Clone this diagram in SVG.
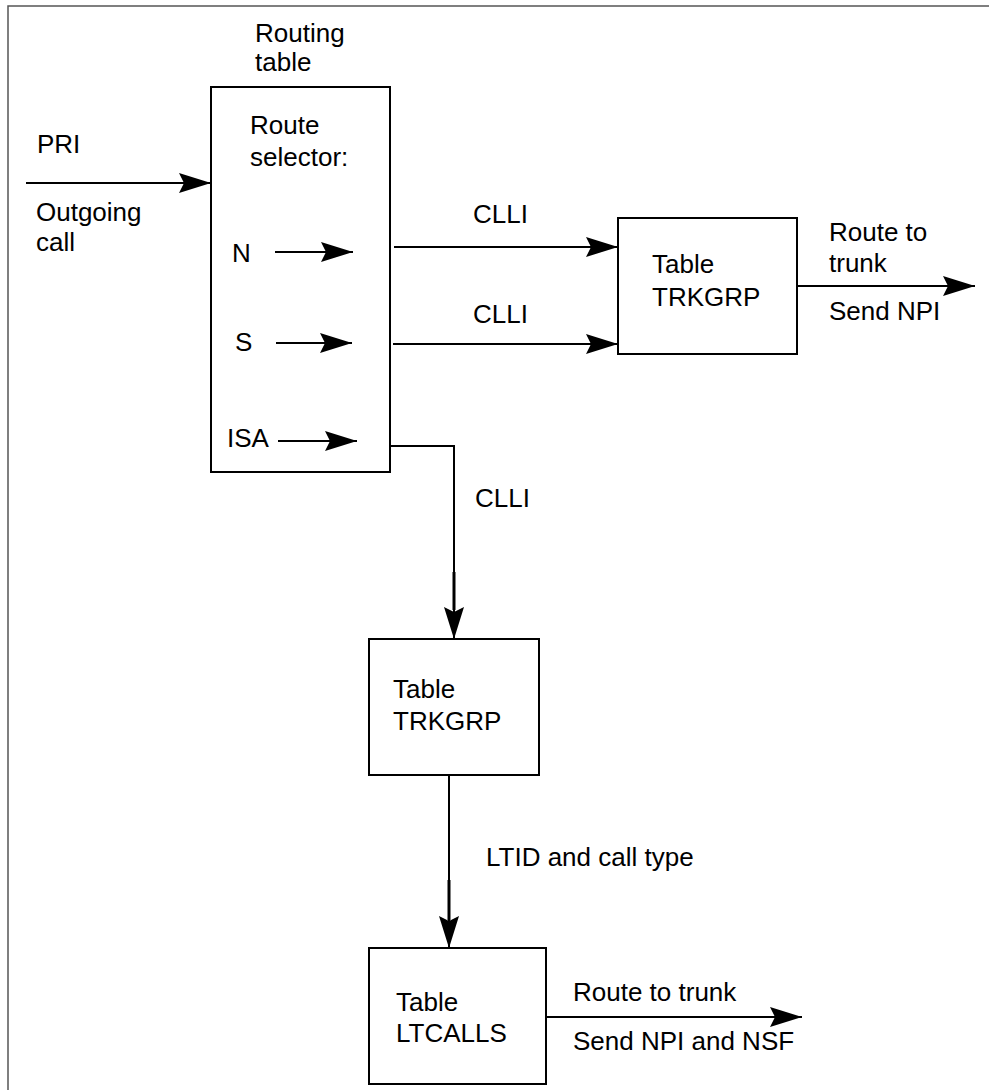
<svg xmlns="http://www.w3.org/2000/svg" width="989" height="1090" viewBox="0 0 989 1090">
<style>
text{font-family:"Liberation Sans",Arial,sans-serif;font-size:26px;fill:#000}
.box{fill:#fff;stroke:#000;stroke-width:2}
.ln{fill:none;stroke:#000;stroke-width:2}
</style>
<defs>
<marker id="ah" markerUnits="userSpaceOnUse" viewBox="-34 -12 35 24" markerWidth="35" markerHeight="24" refX="0" refY="0" orient="auto">
<path d="M0,0 L-32,-10 L-27,0 L-32,10 Z" fill="#000"/>
</marker>
</defs>
<rect width="989" height="1090" fill="#fff"/>
<path d="M8,1090 V6 H989" fill="none" stroke="#555" stroke-width="1.5"/>

<g id="routing-table">
<text x="255" y="42">Routing</text>
<text x="255" y="71">table</text>
<rect class="box" x="211" y="87" width="179" height="385"/>
<text x="250" y="134">Route</text>
<text x="250" y="166">selector:</text>
<text x="232" y="262">N</text>
<text x="235" y="351">S</text>
<text x="227" y="447">ISA</text>
<line class="ln" x1="275" y1="252" x2="353" y2="252" marker-end="url(#ah)"/>
<line class="ln" x1="276" y1="343" x2="352" y2="343" marker-end="url(#ah)"/>
<line class="ln" x1="278" y1="441" x2="357" y2="441" marker-end="url(#ah)"/>
</g>

<g id="trkgrp-1">
<rect class="box" x="618" y="218" width="179" height="136"/>
<text x="652" y="273">Table</text>
<text x="652" y="306">TRKGRP</text>
</g>

<g id="trkgrp-2">
<rect class="box" x="369" y="639" width="170" height="136"/>
<text x="393" y="698">Table</text>
<text x="393" y="730">TRKGRP</text>
</g>

<g id="ltcalls">
<rect class="box" x="369" y="948" width="177" height="136"/>
<text x="396" y="1011">Table</text>
<text x="396" y="1042">LTCALLS</text>
</g>

<g id="connectors">
<line class="ln" x1="26" y1="183" x2="211" y2="183" marker-end="url(#ah)"/>
<text x="37" y="153">PRI</text>
<text x="36" y="221">Outgoing</text>
<text x="36" y="251">call</text>

<line class="ln" x1="394" y1="247" x2="618" y2="247" marker-end="url(#ah)"/>
<text x="473" y="223">CLLI</text>
<line class="ln" x1="393" y1="344" x2="618" y2="344" marker-end="url(#ah)"/>
<text x="473" y="323">CLLI</text>

<line class="ln" x1="797" y1="286" x2="975" y2="286" marker-end="url(#ah)"/>
<text x="829" y="241">Route to</text>
<text x="829" y="272">trunk</text>
<text x="829" y="320">Send NPI</text>

<path class="ln" d="M390,446 H454 V639" marker-end="url(#ah)"/>
<line x1="454" y1="572" x2="454" y2="610" stroke="#000" stroke-width="3"/>
<text x="475" y="507">CLLI</text>

<line class="ln" x1="449" y1="775" x2="449" y2="948" marker-end="url(#ah)"/>
<line x1="449" y1="880" x2="449" y2="920" stroke="#000" stroke-width="3"/>
<text x="486" y="866">LTID and call type</text>

<line class="ln" x1="546" y1="1017" x2="802" y2="1017" marker-end="url(#ah)"/>
<text x="573" y="1001">Route to trunk</text>
<text x="573" y="1050">Send NPI and NSF</text>
</g>
</svg>
